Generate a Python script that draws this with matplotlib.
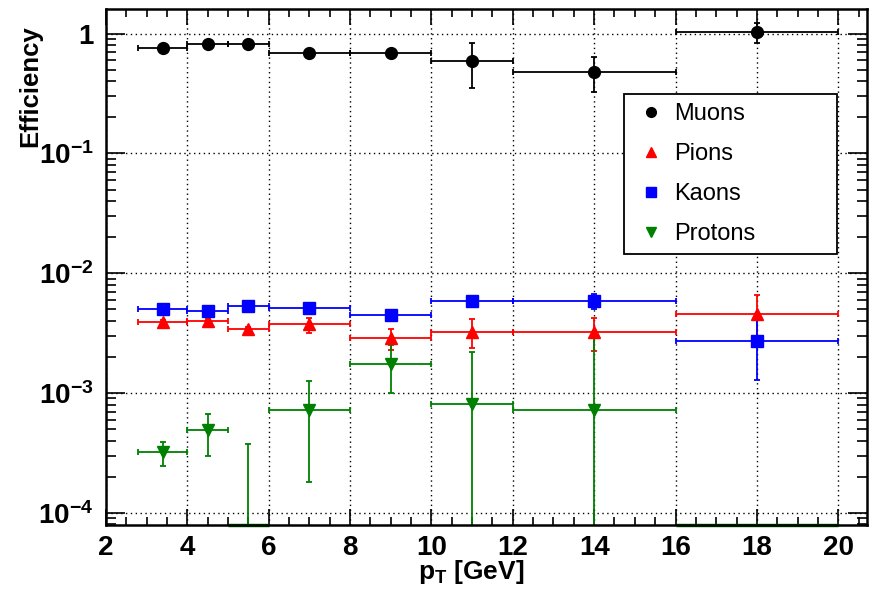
import numpy as np
import matplotlib
matplotlib.use("Agg")
import matplotlib.pyplot as plt
from matplotlib.lines import Line2D
from matplotlib.ticker import FixedLocator, LogLocator, FuncFormatter, MultipleLocator, NullFormatter

plt.rcParams['font.family'] = ['Liberation Sans', 'DejaVu Sans']
plt.rcParams['mathtext.fontset'] = 'custom'
plt.rcParams['mathtext.rm'] = 'Liberation Sans:bold'
plt.rcParams['mathtext.it'] = 'Liberation Sans:bold'
plt.rcParams['mathtext.bf'] = 'Liberation Sans:bold'
plt.rcParams['mathtext.default'] = 'rm'

# ---- data ----
bin_edges = [2.8, 4.0, 5.0, 6.0, 8.0, 10.0, 12.0, 16.0, 20.0]
pt_centers = [3.4, 4.5, 5.5, 7.0, 9.0, 11.0, 14.0, 18.0]

muon_eff = [0.764, 0.815, 0.815, 0.693, 0.693, 0.591, 0.481, 1.03]
muon_lo = [0.75, 0.80, 0.80, 0.68, 0.68, 0.351, 0.327, 0.84]
muon_hi = [0.78, 0.83, 0.83, 0.71, 0.71, 0.831, 0.642, 1.24]

pion_eff = [3.94e-3, 4.02e-3, 3.45e-3, 3.77e-3, 2.88e-3, 3.25e-3, 3.24e-3, 4.54e-3]
pion_lo = [3.80e-3, 3.88e-3, 3.32e-3, 3.19e-3, 2.29e-3, 2.38e-3, 2.24e-3, 3.00e-3]
pion_hi = [4.08e-3, 4.16e-3, 3.58e-3, 4.24e-3, 3.42e-3, 4.12e-3, 4.20e-3, 6.55e-3]

kaon_eff = [5.04e-3, 4.81e-3, 5.30e-3, 5.13e-3, 4.45e-3, 5.91e-3, 5.89e-3, 2.70e-3]
kaon_lo = [4.90e-3, 4.68e-3, 5.15e-3, 4.98e-3, 4.32e-3, 5.60e-3, 5.04e-3, 1.29e-3]
kaon_hi = [5.18e-3, 4.95e-3, 5.45e-3, 5.28e-3, 4.58e-3, 6.25e-3, 6.73e-3, 4.15e-3]

proton_eff = [3.22e-4, 4.92e-4, 0.0, 7.23e-4, 1.75e-3, 8.07e-4, 7.23e-4, 0.0]
proton_lo = [2.46e-4, 2.98e-4, 0.0, 1.82e-4, 0.99e-3, 0.0, 0.0, 0.0]
proton_hi = [3.91e-4, 6.73e-4, 3.78e-4, 1.25e-3, 2.52e-3, 2.18e-3, 2.86e-3, 0.0]

labels = ["Muons", "Pions", "Kaons", "Protons"]
colors = ["#000000", "#ff0000", "#0000ff", "#008000"]
markers = ["o", "^", "s", "v"]

x_range = (2.0, 20.7)
y_range = (7.9e-5, 1.6)

# ---- figure ----
fig = plt.figure(figsize=(8.77, 5.89), dpi=100)
ax = fig.add_axes([0.1208, 0.1087, 0.8675, 0.8755])
ax.set_yscale('log')
ax.set_xlim(*x_range)
ax.set_ylim(*y_range)

x = np.array(pt_centers)
edges = np.array(bin_edges)
xerr = np.vstack([x - edges[:-1], edges[1:] - x])

series = [(muon_eff, muon_lo, muon_hi), (pion_eff, pion_lo, pion_hi),
          (kaon_eff, kaon_lo, kaon_hi), (proton_eff, proton_lo, proton_hi)]

for (eff, lo, hi), c, m in zip(series, colors, markers):
    eff = np.array(eff); lo = np.array(lo); hi = np.array(hi)
    yerr = np.vstack([eff - lo, hi - eff])
    ax.errorbar(x, eff, xerr=xerr, yerr=yerr, fmt=m, color=c, ecolor=c,
                markersize=8.5, elinewidth=1.3, capsize=2.5, capthick=1.3,
                zorder=3)
    zero = eff <= 0
    if zero.any():
        ax.hlines(np.full(zero.sum(), y_range[0]), edges[:-1][zero], edges[1:][zero],
                  color=c, lw=2.5, clip_on=False, zorder=1)

# grid
ax.grid(True, which='major', color='black', linestyle=(0, (1, 2.5)), linewidth=1.0)
ax.set_axisbelow(True)

# ticks
ax.xaxis.set_major_locator(MultipleLocator(2))
ax.xaxis.set_minor_locator(MultipleLocator(0.5))
ax.yaxis.set_major_locator(FixedLocator([1e-4, 1e-3, 1e-2, 1e-1, 1.0]))
ax.yaxis.set_minor_locator(LogLocator(base=10, subs=np.arange(2, 10), numticks=20))
ax.yaxis.set_minor_formatter(NullFormatter())

def yfmt(v, pos):
    e = int(round(np.log10(v)))
    if e == 0:
        return '1'
    return r'$10^{%d}$' % e

ax.yaxis.set_major_formatter(FuncFormatter(yfmt))
ax.xaxis.set_major_formatter(FuncFormatter(lambda v, p: '%d' % v))

ax.tick_params(axis='both', which='both', direction='in', top=True, right=True, width=1.2)
ax.tick_params(axis='x', which='major', length=11.5, labelsize=20, pad=7)
ax.tick_params(axis='x', which='minor', length=5.5)
ax.tick_params(axis='y', which='major', length=14, labelsize=20, pad=9)
ax.tick_params(axis='y', which='minor', length=7)
for lab in ax.get_xticklabels() + ax.get_yticklabels():
    lab.set_fontweight('bold')

for s in ax.spines.values():
    s.set_linewidth(1.8)
    s.set_zorder(4)

ax.set_xlabel(r'p$_{\mathrm{T}}$ [GeV]', fontsize=19, fontweight='bold', labelpad=0)
ax.set_ylabel('Efficiency', fontsize=18.5, fontweight='bold', labelpad=4)
ax.yaxis.set_label_coords(-0.084, 0.852)
ax.xaxis.set_label_coords(0.48, -0.064)

# legend
handles = [Line2D([], [], linestyle='none', marker=m, color=c, markersize=7)
           for m, c in zip(markers, colors)]
leg = ax.legend(handles, labels, loc='upper left', bbox_to_anchor=(0.681, 0.836, 0.28, 0.0),
                mode='expand', fontsize=17, frameon=True, fancybox=False,
                edgecolor='black', framealpha=1, labelspacing=0.77,
                handlelength=1.5, handletextpad=0.25, borderpad=0.38, borderaxespad=0)
leg.get_frame().set_linewidth(1.3)
leg.set_zorder(5)

fig.savefig('out.png', dpi=100)
